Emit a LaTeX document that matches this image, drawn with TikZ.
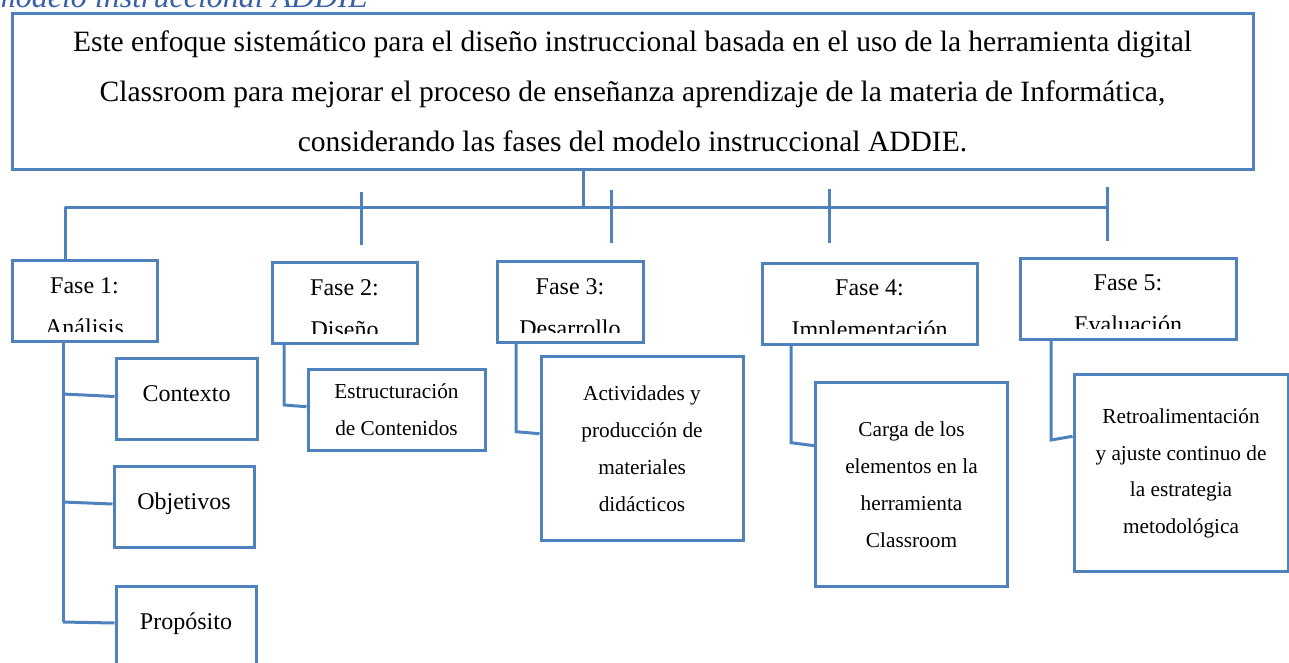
\documentclass[tikz,border=0pt]{standalone}
\usepackage{fontspec}
\setmainfont{Liberation Serif}
\usetikzlibrary{calc}
\definecolor{smartblue}{RGB}{79,129,189}
\definecolor{capblue}{RGB}{55,96,165}
\tikzstyle{bloque}=[rectangle,draw=smartblue,line width=3pt,inner sep=0pt,align=center]
\tikzstyle{fase}=[bloque,minimum height=81pt]
\tikzstyle{midbox}=[bloque,minimum width=140pt,minimum height=81pt,font=\fontsize{24}{41}\selectfont,text height=16pt,text depth=11pt]
\tikzstyle{smallbox}=[bloque,font=\fontsize{21.3}{36.7}\selectfont]
\tikzstyle{fasetext}=[inner sep=0pt,anchor=north,align=center,font=\fontsize{24}{42}\selectfont]
\tikzstyle{enlace}=[draw=smartblue,line width=3pt]

\begin{document}
\begin{tikzpicture}[x=1pt,y=-1pt]
	\useasboundingbox (0,0) rectangle (1289,662);

	\node[anchor=base east,inner sep=0pt,text=capblue,font=\itshape\fontsize{32}{38}\selectfont] (cap) at (368,7) {modelo instruccional ADDIE};

	\node[bloque,minimum width=1241pt,minimum height=156pt,font=\fontsize{29.5}{50}\selectfont] (top) at (632.5,91) {Este enfoque sistemático para el diseño instruccional basada en el uso de la herramienta digital\\Classroom para mejorar el proceso de enseñanza aprendizaje de la materia de Informática,\\considerando las fases del modelo instruccional ADDIE.};

	% fases
	\node[fase,minimum width=145pt] (f1) at (84.5,301) {};
	\node[fase,minimum width=145pt] (f2) at (344.5,303) {};
	\node[fase,minimum width=146pt] (f3) at (570,302) {};
	\node[fase,minimum width=215pt] (f4) at (869.5,303.5) {};
	\node[fase,minimum width=216pt] (f5) at (1128,298.5) {};

	\begin{scope}
		\clip (f1.north west) rectangle ([yshift=12pt]f1.south east);
		\node[fasetext] (f1t) at ([yshift=-18pt]f1.north) {Fase 1:\\Análisis};
	\end{scope}
	\begin{scope}
		\clip (f2.north west) rectangle ([yshift=12pt]f2.south east);
		\node[fasetext] (f2t) at ([yshift=-18pt]f2.north) {Fase 2:\\Diseño};
	\end{scope}
	\begin{scope}
		\clip (f3.north west) rectangle ([yshift=12pt]f3.south east);
		\node[fasetext] (f3t) at ([yshift=-18pt]f3.north) {Fase 3:\\Desarrollo};
	\end{scope}
	\begin{scope}
		\clip (f4.north west) rectangle ([yshift=12pt]f4.south east);
		\node[fasetext] (f4t) at ([yshift=-18pt]f4.north) {Fase 4:\\Implementación};
	\end{scope}
	\begin{scope}
		\clip (f5.north west) rectangle ([yshift=12pt]f5.south east);
		\node[fasetext] (f5t) at ([yshift=-18pt]f5.north) {Fase 5:\\Evaluación};
	\end{scope}

	% contenidos
	\node[midbox,minimum width=141pt] (ctx) at (186.5,398.5) {Contexto};
	\node[midbox] (obj) at (184,507) {Objetivos};
	\node[midbox] (pro) at (186,627) {Propósito};
	\node[smallbox,minimum width=177pt,minimum height=81pt] (estr) at (396.5,409.7) {Estructuración\\de Contenidos};
	\node[smallbox,minimum width=202pt,minimum height=184pt] (act) at (642,448.7) {Actividades y\\producción de\\materiales\\didácticos};
	\node[smallbox,minimum width=191.6pt,minimum height=204pt] (carga) at (911.5,484.7) {Carga de los\\elementos en la\\herramienta\\Classroom};
	\node[smallbox,minimum width=214pt,minimum height=197pt] (retro) at (1181,473.3) {Retroalimentación\\y ajuste continuo de\\la estrategia\\metodológica};

	\coordinate (hub) at (583,207);
	\coordinate (hl) at (65,207);
	\coordinate (hr) at (1107,207);
	\draw[enlace] (top.south -| hub) -- (hub);
	\draw[enlace] (hl) -- (hr);
	\draw[enlace] (hl) -- (hl |- f1.north);

	\coordinate (t2a) at (361,192);
	\coordinate (t2b) at (361,245);
	\coordinate (t3a) at (611,190);
	\coordinate (t3b) at (611,243);
	\coordinate (t4a) at (829,189);
	\coordinate (t4b) at (829,243);
	\coordinate (t5a) at (1107,187);
	\coordinate (t5b) at (1107,241);
	\draw[enlace] (t2a) -- (t2b);
	\draw[enlace] (t3a) -- (t3b);
	\draw[enlace] (t4a) -- (t4b);
	\draw[enlace] (t5a) -- (t5b);

	\coordinate (k1) at (63,394);
	\coordinate (k2) at (63,502);
	\coordinate (k3) at (63,622);
	\coordinate (k4) at (284,405);
	\coordinate (k5) at (516,431.7);
	\coordinate (k6) at (791,442.7);
	\coordinate (k7) at (1051,440);

	\draw[enlace] (f1.south -| k1) -- (k3);
	\draw[enlace] (k1) -- ([yshift=2pt]ctx.west);
	\draw[enlace] (k2) -- ([yshift=3pt]obj.west);
	\draw[enlace] (k3) -- ([yshift=4pt]pro.west);
	\draw[enlace] (f2.south -| k4) -- (k4) -- ([yshift=3pt]estr.west);
	\draw[enlace] (f3.south -| k5) -- (k5) -- ([yshift=15pt]act.west);
	\draw[enlace] (f4.south -| k6) -- (k6) -- ([yshift=39pt]carga.west);
	\draw[enlace] (f5.south -| k7) -- (k7) -- ([yshift=37pt]retro.west);

\end{tikzpicture}
\end{document}
